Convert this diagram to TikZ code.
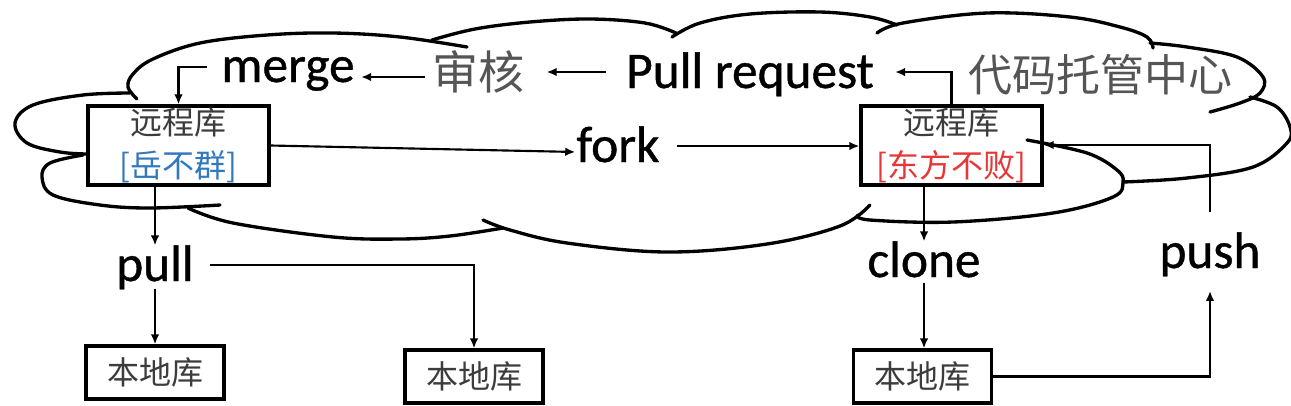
\documentclass[tikz,border=0pt]{standalone}
\usepackage{fontspec}
\setmainfont{Carlito}
\newfontfamily\labfont{Carlito}[FakeBold=0.8]
\newfontfamily\cjk{Noto Sans CJK SC}
\usetikzlibrary{arrows.meta}
\definecolor{cjkgray}{RGB}{85,85,85}
\definecolor{boxgray}{RGB}{60,60,60}
\definecolor{yueblue}{RGB}{50,120,190}
\definecolor{dfred}{RGB}{230,55,55}
\begin{document}
\begin{tikzpicture}[x=0.75pt,y=-0.75pt,
  cloudline/.style={line width=2.5pt, line cap=round},
  repo/.style={draw, line width=2.5pt, fill=white, inner sep=0pt,
    minimum width=135.75pt, minimum height=59.25pt, align=center,
    font=\cjk\fontsize{24}{32}\selectfont},
  localrepo/.style={draw, line width=2.5pt, fill=white, inner sep=0pt,
    minimum width=103.5pt, minimum height=39.75pt,
    font=\cjk\fontsize{24}{24}\selectfont, text=boxgray},
  lab/.style={inner sep=0pt, outer sep=0pt, font=\labfont\fontsize{38.5}{38.5}\selectfont},
  biglab/.style={inner sep=0pt, outer sep=0pt, text=cjkgray},
  arr/.style={line width=1.6pt, -{Latex[length=7.5pt,width=6.5pt]}},
]
\fill[white] (0,0) rectangle (1291,405);
\useasboundingbox (0,0) rectangle (1291,405);

% repositories
\node[repo] (boxL) at (178.5,145.5) {{\color{boxgray}远程库}\\{\color{yueblue}[岳不群]}};
\node[repo] (boxR) at (951.5,145.5) {{\color{boxgray}远程库}\\{\color{dfred}[东方不败]}};
\node[localrepo] (local1) at (155,372.5) {本地库};
\node[localrepo] (local2) at (474,376.5) {本地库};
\node[localrepo] (local3) at (922.5,376.5) {本地库};

% cloud
\draw[cloudline] plot[smooth, tension=0.6] coordinates {(137,99) (128,87) (133,74) (153,59) (200,43) (267,35) (333,33) (400,37) (467,47)};
\draw[cloudline] plot[smooth, tension=0.6] coordinates {(432,40) (475,29) (530,22) (590,19) (645,23) (676,33)};
\draw[cloudline] plot[smooth, tension=0.6] coordinates {(672,37) (700,23) (750,14) (820,12) (870,17) (897,25)};
\draw[cloudline] plot[smooth, tension=0.6] coordinates {(877,33) (903,23) (987,13) (1070,17) (1120,27) (1147,37) (1153,48)};
\draw[cloudline] plot[smooth, tension=0.6] coordinates {(1150,43) (1187,47) (1237,57) (1263,77) (1260,93) (1240,103) (1210,112)};
\draw[cloudline] plot[smooth, tension=0.6] coordinates {(1250,97) (1277,107) (1290,127) (1287,143) (1253,167) (1187,178) (1123,182)};
\draw[cloudline] plot[smooth, tension=0.6] coordinates {(1027,140) (1087,153) (1117,170) (1123,182) (1113,197) (1053,213) (953,222) (870,220) (858,215)};
\draw[cloudline] plot[smooth, tension=0.6] coordinates {(483,220) (510,230) (567,243) (667,252) (767,244) (840,226) (870,205)};
\draw[cloudline] plot[smooth, tension=0.6] coordinates {(188,208) (233,223) (333,237) (400,239) (450,236) (503,228)};
\draw[cloudline] plot[smooth, tension=0.6] coordinates {(83,155) (50,163) (42,177) (53,195) (100,205) (150,208) (220,205)};
\draw[cloudline] plot[smooth, tension=0.6] coordinates {(130,93) (83,95) (33,105) (15,123) (27,143) (60,152) (87,154)};

% labels
\node[lab, anchor=base] (merge) at (288,82) {merge};
\node[lab, anchor=base] (pr) at (750,88) {Pull request};
\node[lab, anchor=base] (fork) at (618,162) {fork};
\node[lab, anchor=base] (pull) at (155,281) {pull};
\node[lab, anchor=base] (clone) at (924,277) {clone};
\node[lab, anchor=base] (push) at (1210,268) {push};
\node[biglab, font=\cjk\fontsize{34.5}{34.5}\selectfont] (shenhe) at (478,72) {审核};
\node[biglab, font=\cjk\fontsize{33}{33}\selectfont] (hub) at (1100,75) {代码托管中心};

% connectors
\draw[arr, shorten <=5pt, shorten >=5pt] (shenhe.west |- 0,77) -- (merge.east |- 0,77);
\draw[arr, shorten <=15pt, shorten >=17pt] (pr.west |- 0,72) -- (shenhe.east |- 0,72);
\draw[arr, shorten <=11pt] (merge.west |- 0,67) -| (boxL.north);
\draw[arr, shorten >=16pt] (boxR.north) |- (pr.east |- 0,72);
\draw[arr, shorten >=1pt] (boxL.east) -- (fork.west |- 0,152);
\draw[arr, shorten <=13pt] (fork.east |- 0,146) -- (boxR.west |- 0,146);
\draw[arr] (pull.north |- boxL.south) -- (pull.north);
\draw[arr] (pull.south) -- (local1.north);
\draw[arr, shorten <=12pt] (pull.east |- 0,265) -| (local2.north);
\draw[arr] (clone.north |- boxR.south) -- (clone.north);
\draw[arr, shorten <=4pt] (clone.south) -- (clone.south |- local3.north);
\draw[arr, shorten >=11pt] (local3.east) -| (push.south);
\draw[arr, shorten <=15pt] (push.north) |- (boxR.east |- 0,145);
\end{tikzpicture}
\end{document}
